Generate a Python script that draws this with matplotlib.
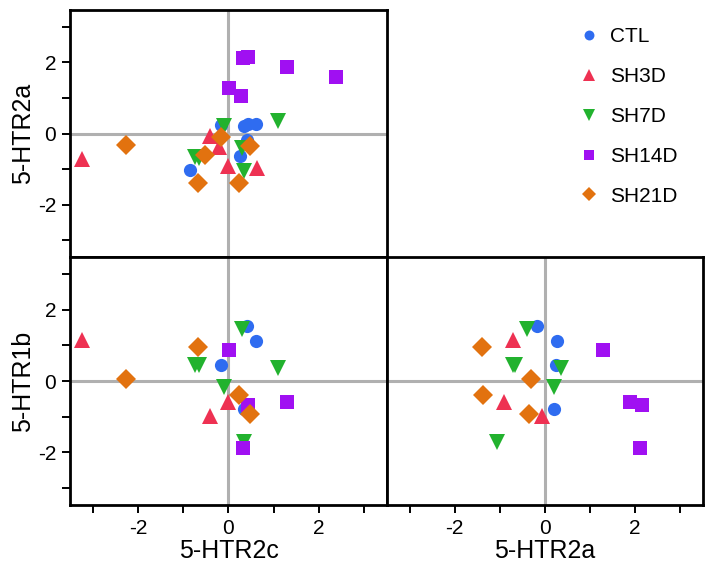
import numpy as np
import matplotlib
matplotlib.use("Agg")
import matplotlib.pyplot as plt
from matplotlib.lines import Line2D

plt.rcParams['font.family'] = ['Liberation Sans', 'DejaVu Sans']
plt.rcParams['axes.unicode_minus'] = False

nan = np.nan

# groups and their expression values (5-HTR2c, 5-HTR2a, 5-HTR1b)
groups = ["CTL", "SH3D", "SH7D", "SH14D", "SH21D"]

htr2c = {
    "CTL":   [0.42, 0.60, -0.17, 0.35, -0.85, 0.44, 0.25],
    "SH3D":  [-3.24, -0.40, 0.00, -0.21, 0.63],
    "SH7D":  [0.30, 1.10, -0.10, 0.34, -0.74, -0.64],
    "SH14D": [0.01, 1.29, 0.43, 0.31, 2.38, 0.28],
    "SH21D": [-2.26, -0.68, 0.24, 0.48, -0.17, -0.51],
}
htr2a = {
    "CTL":   [-0.17, 0.26, 0.24, 0.20, -1.02, 0.27, -0.62],
    "SH3D":  [-0.71, -0.06, -0.90, -0.37, -0.97],
    "SH7D":  [-0.40, 0.35, 0.20, -1.06, -0.66, -0.70],
    "SH14D": [1.29, 1.88, 2.14, 2.11, 1.58, 1.05],
    "SH21D": [-0.32, -1.40, -1.38, -0.36, -0.09, -0.59],
}
htr1b = {
    "CTL":   [1.55, 1.12, 0.45, -0.79, nan, nan, nan],
    "SH3D":  [1.15, -0.99, -0.59, nan, nan],
    "SH7D":  [1.45, 0.37, -0.17, -1.72, 0.44, 0.45],
    "SH14D": [0.88, -0.60, -0.68, -1.87, nan, nan],
    "SH21D": [0.06, 0.94, -0.39, -0.92, nan, nan],
}

colors = {"CTL": "#2f6cf0", "SH3D": "#ee3152", "SH7D": "#22b22e",
          "SH14D": "#a010f2", "SH21D": "#e2720f"}
markers = {"CTL": "o", "SH3D": "^", "SH7D": "v", "SH14D": "s", "SH21D": "D"}
msize = {"CTL": 9.5, "SH3D": 11, "SH7D": 11, "SH14D": 10.5, "SH21D": 10}

fig = plt.figure(figsize=(7.12, 5.72), dpi=100)
ax_tl = fig.add_axes([0.0983, 0.5507, 0.4452, 0.4318])
ax_bl = fig.add_axes([0.0983, 0.1171, 0.4452, 0.4336])
ax_br = fig.add_axes([0.5435, 0.1171, 0.4438, 0.4336])

panels = [(ax_tl, htr2c, htr2a), (ax_bl, htr2c, htr1b), (ax_br, htr2a, htr1b)]

for ax, xd, yd in panels:
    ax.axhline(0, color="#b0b0b0", lw=2.2, zorder=1)
    ax.axvline(0, color="#b0b0b0", lw=2.2, zorder=1)
    for g in groups:
        ax.plot(xd[g], yd[g], linestyle="none", marker=markers[g],
                markersize=msize[g], color=colors[g], markeredgewidth=0, zorder=3)
    ax.set_xlim(-3.5, 3.5)
    ax.set_ylim(-3.47, 3.47)
    for sp in ax.spines.values():
        sp.set_linewidth(2)
    ax.set_xticks(range(-3, 4))
    ax.set_yticks(range(-3, 4))
    ax.set_xticklabels(["", "-2", "", "0", "", "2", ""])
    ax.set_yticklabels(["", "-2", "", "0", "", "2", ""])
    ax.tick_params(direction="out", length=6, width=1.4, labelsize=15, pad=4)

ax_tl.tick_params(axis="x", bottom=False, labelbottom=False)
ax_br.tick_params(axis="y", left=False, labelleft=False)

ax_tl.set_ylabel("5-HTR2a", fontsize=18, labelpad=2)
ax_bl.set_ylabel("5-HTR1b", fontsize=18, labelpad=2)
ax_bl.set_xlabel("5-HTR2c", fontsize=18, labelpad=1)
ax_br.set_xlabel("5-HTR2a", fontsize=18, labelpad=1)

handles = [Line2D([], [], linestyle="none", marker=markers[g], color=colors[g],
                  markersize=msize[g] * 0.75, markeredgewidth=0) for g in groups]
fig.legend(handles, groups, loc="upper left", bbox_to_anchor=(0.784, 0.985),
           frameon=False, fontsize=15, labelspacing=1.0, handletextpad=0.4,
           handlelength=1.2)

fig.savefig("out.png", dpi=100)
